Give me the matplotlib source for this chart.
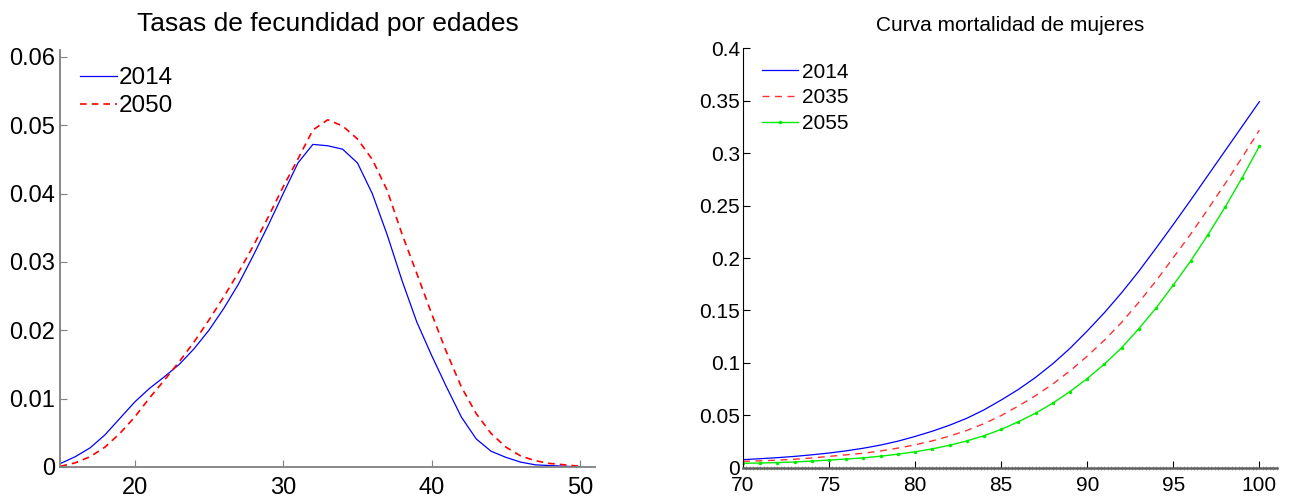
import matplotlib
matplotlib.use("Agg")
import matplotlib.pyplot as plt
from matplotlib.ticker import MultipleLocator

plt.rcParams['font.family'] = ['Liberation Sans', 'DejaVu Sans']

# fecundidad por edades
edades = list(range(15, 51))
fec_2014 = [0.0005, 0.0015, 0.0028, 0.0047, 0.0071, 0.0095, 0.0115, 0.0132, 0.0150, 0.0173,
            0.0200, 0.0232, 0.0268, 0.0310, 0.0354, 0.0400, 0.0445, 0.0472, 0.0470, 0.0465,
            0.0445, 0.0400, 0.0340, 0.0273, 0.0212, 0.0163, 0.0117, 0.0073, 0.0041, 0.0023,
            0.0014, 0.0007, 0.0003, 0.0002, 0.0001, 0.0000]
fec_2050 = [0.0001, 0.0006, 0.0015, 0.0029, 0.0049, 0.0073, 0.0101, 0.0127, 0.0154, 0.0183,
            0.0215, 0.0249, 0.0285, 0.0324, 0.0366, 0.0410, 0.0451, 0.0493, 0.0508, 0.0499,
            0.0480, 0.0450, 0.0405, 0.0341, 0.0283, 0.0224, 0.0168, 0.0117, 0.0078, 0.0049,
            0.0029, 0.0016, 0.0009, 0.0005, 0.0003, 0.0001]

# mortalidad de mujeres
edades_m = list(range(70, 101))
mort_2014 = [0.0079, 0.0088, 0.0098, 0.0110, 0.0125, 0.0142, 0.0163, 0.0188, 0.0218, 0.0255,
             0.0300, 0.0350, 0.0407, 0.0473, 0.0553, 0.0647, 0.0748, 0.0863, 0.0993, 0.1140,
             0.1305, 0.1480, 0.1670, 0.1875, 0.2095, 0.2320, 0.2550, 0.2785, 0.3020, 0.3255,
             0.3490]
mort_2035 = [0.0063, 0.0068, 0.0074, 0.0083, 0.0095, 0.0110, 0.0125, 0.0140, 0.0162, 0.0189,
             0.0220, 0.0258, 0.0303, 0.0357, 0.0422, 0.0499, 0.0590, 0.0689, 0.0800, 0.0925,
             0.1065, 0.1218, 0.1387, 0.1579, 0.1783, 0.2004, 0.2226, 0.2463, 0.2706, 0.2959,
             0.3219]
mort_2055 = [0.0044, 0.0047, 0.0051, 0.0057, 0.0065, 0.0075, 0.0085, 0.0096, 0.0112, 0.0131,
             0.0154, 0.0182, 0.0216, 0.0257, 0.0307, 0.0367, 0.0440, 0.0522, 0.0618, 0.0728,
             0.0852, 0.0990, 0.1146, 0.1327, 0.1524, 0.1743, 0.1970, 0.2219, 0.2483, 0.2765,
             0.3066]

fig = plt.figure(figsize=(12.89, 5.01), dpi=100)
ax1 = fig.add_axes([0.0469, 0.068, 0.4147, 0.832])
ax2 = fig.add_axes([0.5764, 0.066, 0.414, 0.838])

# --- izquierda
ax1.plot(edades, fec_2014, color="#0000ff", lw=0.9, label="2014")
ax1.plot(edades, fec_2050, color="#ff0000", lw=1.2, dashes=(4, 3), label="2050")
ax1.set_xlim(15, 51)
ax1.set_ylim(0, 0.061)
ax1.set_xticks([20, 30, 40, 50])
ax1.set_yticks([0, 0.01, 0.02, 0.03, 0.04, 0.05, 0.06])
ax1.set_yticklabels(["0", "0.01", "0.02", "0.03", "0.04", "0.05", "0.06"])
ax1.set_title("Tasas de fecundidad por edades", fontsize=19, pad=14)
for s in ["top", "right"]:
    ax1.spines[s].set_visible(False)
for s in ["left", "bottom"]:
    ax1.spines[s].set_color("#808080")
    ax1.spines[s].set_linewidth(1.3)
ax1.tick_params(direction="in", length=5, labelsize=17, color="#808080", pad=4)
ax1.tick_params(axis="x", pad=7)
ax1.legend(loc="upper left", frameon=False, fontsize=17.5, handlelength=1.5,
           handletextpad=0.1, labelspacing=0.25, borderaxespad=0.3,
           bbox_to_anchor=(0.005, 1.0))

# --- derecha
ax2.plot(edades_m, mort_2014, color="#0000ff", lw=0.9, label="2014")
ax2.plot(edades_m, mort_2035, color="#ff3030", lw=1.0, dashes=(5, 4), label="2035")
ax2.plot(edades_m, mort_2055, color="#00ee00", lw=1.0, marker=".", markersize=3, label="2055")
ax2.set_xlim(70, 101)
ax2.set_ylim(0, 0.4)
ax2.set_xticks([70, 75, 80, 85, 90, 95, 100])
ax2.set_yticks([0, 0.05, 0.1, 0.15, 0.2, 0.25, 0.3, 0.35, 0.4])
ax2.set_yticklabels(["0", "0.05", "0.1", "0.15", "0.2", "0.25", "0.3", "0.35", "0.4"])
ax2.xaxis.set_minor_locator(MultipleLocator(0.2))
ax2.set_title("Curva mortalidad de mujeres", fontsize=15, pad=12)
for s in ["top", "right"]:
    ax2.spines[s].set_visible(False)
ax2.spines["bottom"].set_color("#606060")
ax2.spines["bottom"].set_linewidth(1.8)
ax2.tick_params(direction="in", length=5, labelsize=15, pad=2)
ax2.tick_params(axis="x", pad=6)
ax2.tick_params(axis="x", which="minor", direction="inout", length=3, color="#999999", width=0.5)
ax2.legend(loc="upper left", frameon=False, fontsize=15, handlelength=1.75,
           handletextpad=0.15, labelspacing=0.32, borderaxespad=0.0,
           bbox_to_anchor=(0.02, 0.985))

plt.savefig("out.png", dpi=100)
print("saved out.png")
